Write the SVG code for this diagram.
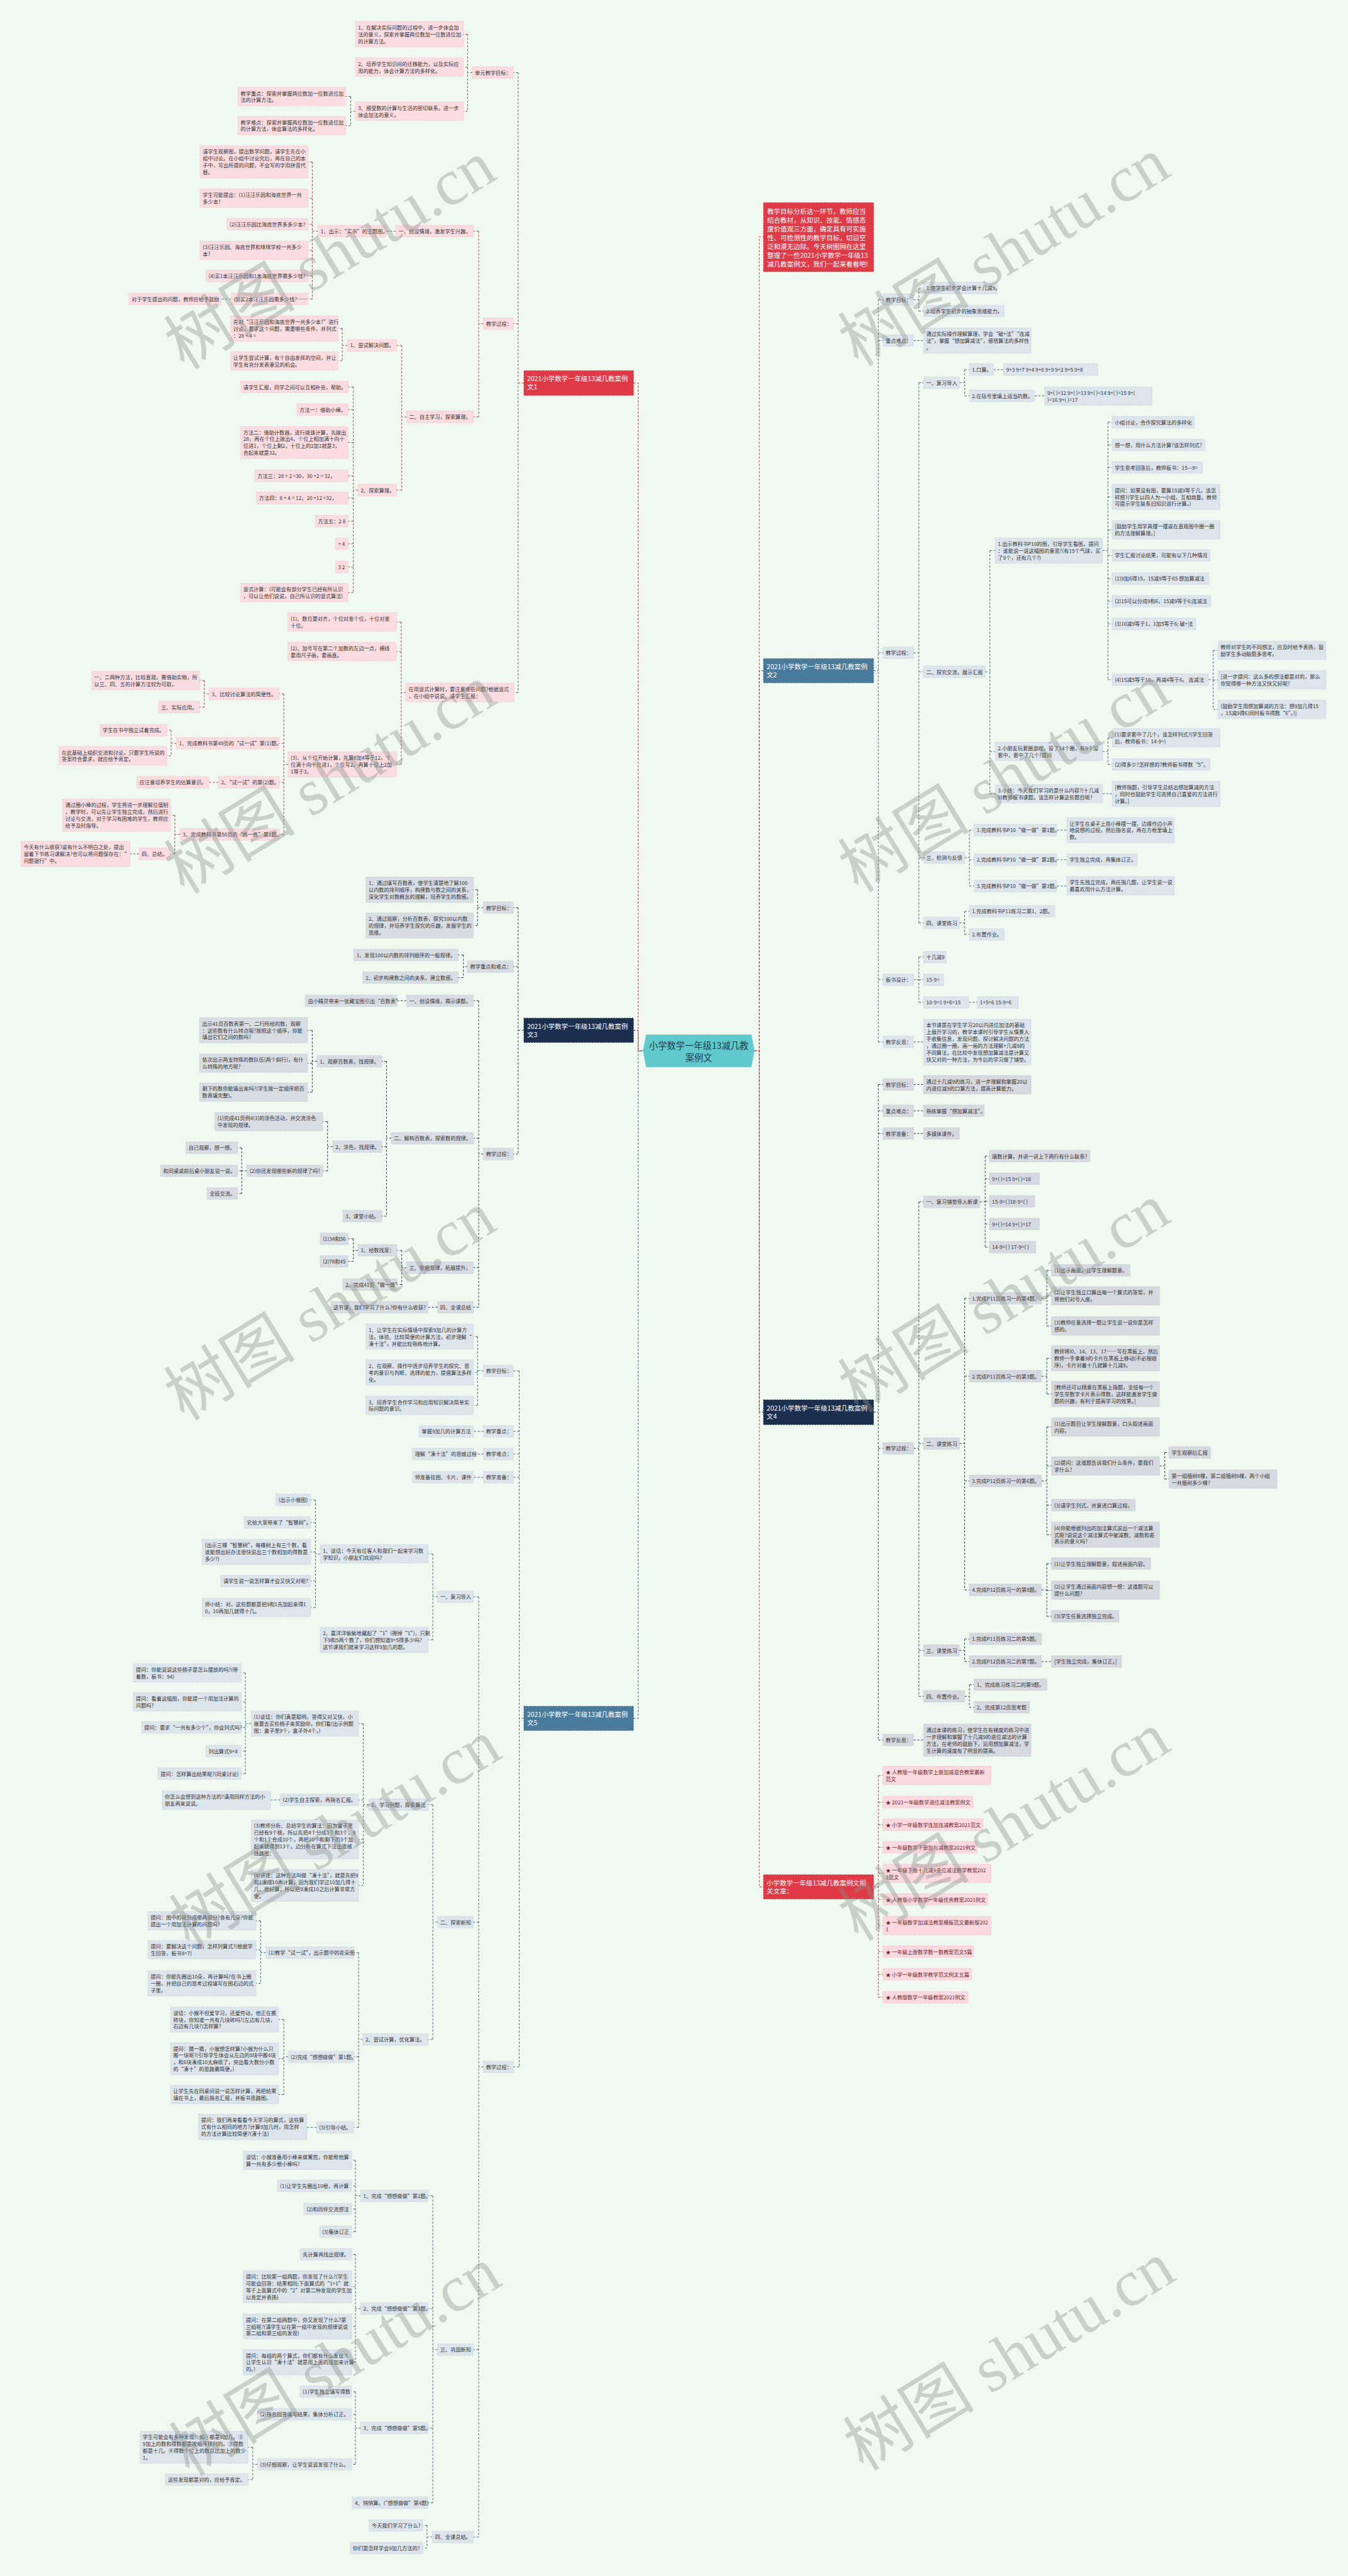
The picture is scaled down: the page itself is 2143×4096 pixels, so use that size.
<svg xmlns="http://www.w3.org/2000/svg" width="2143" height="4096" viewBox="0 0 2143 4096">
<style>
.t{font-family:"Noto Sans CJK SC","Liberation Sans",sans-serif;font-size:9.8px;fill:#333}
.tr{font-family:"Noto Sans CJK SC","Liberation Sans",sans-serif;font-size:9.8px;fill:#6e1d2a}
.tb{font-family:"Noto Sans CJK SC","Liberation Sans",sans-serif;font-size:12.5px;fill:#fff}
.tc{font-family:"Noto Sans CJK SC","Liberation Sans",sans-serif;font-size:17px;fill:#1e3d4c;text-anchor:middle}
.wm{font-family:"Liberation Serif","Noto Sans CJK SC",serif;font-size:125px;fill:#8a918a;opacity:.38}
.l1{fill:#fbdde1;stroke:#efbfc6;stroke-dasharray:3 2}
.l3{fill:#d8dce3;stroke:#c2c8d2;stroke-dasharray:3 2}
.l5{fill:#dce4ec;stroke:#c6d1dd;stroke-dasharray:3 2}
.l4{fill:#d6d9df;stroke:#c0c5ce;stroke-dasharray:3 2}
.lr{fill:#fbd9de;stroke:#efbcc4;stroke-dasharray:3 2}
.bred{fill:#e13a47;stroke:#b52633;stroke-dasharray:3 2}
.bnav{fill:#1d2f4e;stroke:#0e1a30;stroke-dasharray:3 2}
.bstl{fill:#4a7a9c;stroke:#2f5877;stroke-dasharray:3 2}
.c{fill:none;stroke-width:1.2;stroke-dasharray:4 3}
.c1{stroke:#a8404e}.c3{stroke:#2c3b55}.c5{stroke:#46647c}.cr{stroke:#c93341}
</style>
<rect width="2143" height="4096" fill="#f0f9ef"/>
<g transform="scale(0.83711)">

<g id="connectors">
<path class="c c5" d="M1203,3264H1212V1996H1221"/>
<path class="c c3" d="M1203,1957H1212V1996H1221"/>
<path class="c c1" d="M1203,727.5H1212V1996H1221"/>
<path class="c c5" d="M1433,1996H1442V1274H1450"/>
<path class="c c3" d="M1433,1996H1442V2682H1450"/>
<path class="c cr" d="M1433,1996H1442V450H1450M1442,1996V3584H1450"/>

<path class="c c1" d="M995,727.5H984M984,138V1315.5M984,138H975M984,615H975M984,1315.5H976"/>
<path class="c c1" d="M897,138H888M888,65V211.5M888,65H880M888,127.5H880M888,211.5H880"/>
<path class="c c1" d="M675,211.5H666M666,183.5V238.5M666,183.5H656M666,238.5H656"/>
<path class="c c1" d="M918,615H909M909,439V792M909,439H899M909,792H899"/>
<path class="c c1" d="M752,439H733"/>
<path class="c c1" d="M604,439H593M593,307.5V568M593,307.5H585M593,376.5H585M593,426H585M593,475.5H585M593,524H585M593,568H585"/>
<path class="c c1" d="M439,568H420"/>
<path class="c c1" d="M772,792H763M763,656V931M763,656H753M763,931H753"/>
<path class="c c1" d="M660,656H650M650,624V685.5M650,624H642M650,685.5H642"/>
<path class="c c1" d="M680,931H671M671,735V1125.5M671,735H661M671,778H661M671,840.5H661M671,904H661M671,946H661M671,990H661M671,1033H661M671,1077H661M671,1125.5H661"/>
<path class="c c1" d="M771,1315.5H762M762,1181.5V1452M762,1181.5H753M762,1237.5H753M762,1452H753"/>
<path class="c c1" d="M547,1452H539M539,1318V1585M539,1318H530M539,1412H530M539,1486H530M539,1585H530"/>
<path class="c c1" d="M397,1318H388M388,1292.5V1343M388,1292.5H379M388,1343H379"/>
<path class="c c1" d="M335,1412H325M325,1387V1435.5M325,1387H317M325,1435.5H317"/>
<path class="c c1" d="M415,1486H397"/>
<path class="c c1" d="M342,1585H332M332,1548.5V1622M332,1548.5H324M332,1622H323"/>
<path class="c c1" d="M264,1622H247"/>

<path class="c c3" d="M995,1957H984M984,1724V2192M984,1724H975M984,1836H975M984,2192H975"/>
<path class="c c3" d="M918,1724H907M907,1690V1758M907,1690H899M907,1758H899"/>
<path class="c c3" d="M888,1836H880M880,1814V1857M880,1814H870M880,1857H870"/>
<path class="c c3" d="M918,2192H909M909,1901V2483M909,1901H899M909,2162H899M909,2408H899M909,2483H899"/>
<path class="c c3" d="M772,1901H754"/>
<path class="c c3" d="M743,2162H734M734,2016V2310M734,2016H725M734,2178H725M734,2310H725"/>
<path class="c c3" d="M602,2016H593M593,1957V2074.5M593,1957H584M593,2019.5H584M593,2074.5H584"/>
<path class="c c3" d="M632,2178H622M622,2130.5V2224M622,2130.5H613M622,2224H613"/>
<path class="c c3" d="M469,2224H459M459,2180V2267M459,2180H451M459,2224H451M459,2267H451"/>
<path class="c c3" d="M772,2408H763M763,2375V2440M763,2375H754M763,2440H754"/>
<path class="c c3" d="M680,2375H671M671,2353V2396M671,2353H661M671,2396H661"/>
<path class="c c3" d="M831,2483H813"/>

<path class="c c5" d="M995,3264H986M986,2604V3926M986,2604H975M986,2719H975M986,2762H975M986,2806H975M986,3926H975"/>
<path class="c c5" d="M918,2604H907M907,2539V2669.5M907,2539H899M907,2607H899M907,2669.5H899"/>
<path class="c c5" d="M918,2719H899M918,2762H899M918,2806H899"/>
<path class="c c5" d="M918,3926H909M909,3033V4819M909,3033H899M909,3651H899M909,4463H899M909,4819H899"/>
<path class="c c5" d="M831,3033H822M822,2951.5V3115M822,2951.5H813M822,3115H813"/>
<path class="c c5" d="M608,2951.5H599M599,2849V3053.5M599,2849H590M599,2892H590M599,2948H590M599,3003H590M599,3053.5H590"/>
<path class="c c5" d="M831,3651H822M822,3428V3874M822,3428H813M822,3874H813"/>
<path class="c c5" d="M700,3428H690M690,3274V3581.5M690,3274H681M690,3419H681M690,3494H681M690,3581.5H681"/>
<path class="c c5" d="M477,3274H466M466,3177.5V3369M466,3177.5H458M466,3232.5H458M466,3281H458M466,3326H458M466,3369H458"/>
<path class="c c5" d="M532,3419H514"/>
<path class="c c5" d="M689,3874H681M681,3709V4041M681,3709H672M681,3907H672M681,4041H672"/>
<path class="c c5" d="M505,3709H495M495,3648.5V3767M495,3648.5H486M495,3703.5H486M495,3767H486"/>
<path class="c c5" d="M547,3907H539M539,3836V3978.5M539,3836H529M539,3910.5H529M539,3978.5H529"/>
<path class="c c5" d="M601,4041H583"/>
<path class="c c5" d="M831,4463H822M822,4171V4754M822,4171H813M822,4385H813M822,4612H813M822,4754H813"/>
<path class="c c5" d="M685,4171H675M675,4103.5V4239M675,4103.5H668M675,4152H668M675,4196H668M675,4239H668"/>
<path class="c c5" d="M685,4385H675M675,4282V4487M675,4282H668M675,4343.5H668M675,4419H668M675,4487H668"/>
<path class="c c5" d="M685,4612H675M675,4543V4681M675,4543H668M675,4586H668M675,4681H668"/>
<path class="c c5" d="M489,4681H480M480,4648.5V4710M480,4648.5H471M480,4710H471"/>
<path class="c c5" d="M821,4819H811M811,4797V4840M811,4797H803M811,4840H803"/>

<path class="c c5" d="M1659,1274H1668M1668,569V1979M1668,569H1677M1668,647H1677M1668,1240H1677M1668,1861H1677M1668,1979H1677"/>
<path class="c c5" d="M1735,569H1745M1745,547V591M1745,547H1754M1745,591H1754"/>
<path class="c c5" d="M1735,647H1754"/>
<path class="c c5" d="M1735,1240H1745M1745,727V1753M1745,727H1754M1745,1276H1754M1745,1629H1754M1745,1753H1754"/>
<path class="c c5" d="M1822,727H1832M1832,702V752M1832,702H1841M1832,752H1841"/>
<path class="c c5" d="M1887,702H1906M1965,752H1984"/>
<path class="c c5" d="M1871,1276H1880M1880,1046V1507.5M1880,1046H1890M1880,1427.5H1890M1880,1507.5H1890"/>
<path class="c c5" d="M2094,1046H2104M2104,802V1291M2104,802H2112M2104,845H2112M2104,888H2112M2104,944H2112M2104,1006.5H2112M2104,1055H2112M2104,1099H2112M2104,1142H2112M2104,1185H2112M2104,1291H2112"/>
<path class="c c5" d="M2295,1291H2304M2304,1235.5V1347.5M2304,1235.5H2313M2304,1291.5H2313M2304,1347.5H2313"/>
<path class="c c5" d="M2094,1427.5H2104M2104,1401.5V1452M2104,1401.5H2112M2104,1452H2112"/>
<path class="c c5" d="M2094,1507.5H2112"/>
<path class="c c5" d="M1832,1629H1841M1841,1577V1683M1841,1577H1850M1841,1633H1850M1841,1683H1850"/>
<path class="c c5" d="M2007,1577H2026M2007,1633H2026M2007,1683H2026"/>
<path class="c c5" d="M1822,1753H1832M1832,1731V1775M1832,1731H1841M1832,1775H1841"/>
<path class="c c5" d="M1735,1861H1745M1745,1818V1904M1745,1818H1754M1745,1861H1754M1745,1904H1754"/>
<path class="c c5" d="M1840,1904H1856M1735,1979H1754"/>

<path class="c c3" d="M1659,2682H1668M1668,2060V3305M1668,2060H1677M1668,2110H1677M1668,2153H1677M1668,2751H1677M1668,3305H1677"/>
<path class="c c3" d="M1735,2060H1754M1735,2110H1754M1735,2153H1754M1735,3305H1754"/>
<path class="c c3" d="M1735,2751H1745M1745,2283V3222M1745,2283H1754M1745,2742H1754M1745,3135H1754M1745,3222H1754"/>
<path class="c c3" d="M1861,2283H1871M1871,2196V2369M1871,2196H1879M1871,2239H1879M1871,2282H1879M1871,2325H1879M1871,2369H1879"/>
<path class="c c3" d="M1822,2742H1832M1832,2466V3020M1832,2466H1841M1832,2614H1841M1832,2813H1841M1832,3020H1841"/>
<path class="c c3" d="M1978,2466H1988M1988,2413V2518.5M1988,2413H1997M1988,2461.5H1997M1988,2518.5H1997"/>
<path class="c c3" d="M1978,2614H1988M1988,2580V2648M1988,2580H1997M1988,2648H1997"/>
<path class="c c3" d="M1978,2813H1988M1988,2710.5V2915M1988,2710.5H1997M1988,2784.5H1997M1988,2859H1997M1988,2915H1997"/>
<path class="c c3" d="M2202,2784.5H2212M2212,2759V2809.5M2212,2759H2220M2212,2809.5H2220"/>
<path class="c c3" d="M1978,3020H1988M1988,2970V3070M1988,2970H1997M1988,3020.5H1997M1988,3070H1997"/>
<path class="c c3" d="M1822,3135H1832M1832,3113V3156M1832,3113H1841M1832,3156H1841M1978,3156H1997"/>
<path class="c c3" d="M1832,3222H1841M1841,3200V3243M1841,3200H1850M1841,3243H1850"/>

<path class="c c1" d="M1659,3584H1668M1668,3372.5V3794M1668,3372.5H1677M1668,3423H1677M1668,3466H1677M1668,3509H1677M1668,3558.5H1677M1668,3608H1677M1668,3657.5H1677M1668,3707H1677M1668,3750H1677M1668,3794H1677"/>
</g>

<g id="center"><polygon points="1221,1996 1227,1965 1427,1965 1433,1996 1427,2027 1227,2027" fill="#60c9cd"/><text class="tc" x="1327" y="1992">小学数学一年级13减几教</text><text class="tc" x="1327" y="2015">案例文</text></g>

<g id="intro"><rect class="bred" x="1450" y="385" width="209" height="131"/><text class="tb" x="1457" y="406.5">教学目标分析这一环节，教师应当<tspan x="1457" dy="16.6">结合教材，从知识、技能、情感态</tspan><tspan x="1457" dy="16.6">度价值观三方面，确定具有可实施</tspan><tspan x="1457" dy="16.6">性、可检测性的教学目标，切忌空</tspan><tspan x="1457" dy="16.6">泛和漫无边际。今天树图网在这里</tspan><tspan x="1457" dy="16.6">整理了一些2021小学数学一年级13</tspan><tspan x="1457" dy="16.6">减几教案例文，我们一起来看看吧!</tspan></text></g>

<!-- Branch 1 -->
<g id="b1"><rect class="bred" x="995" y="704" width="208" height="47"/><text class="tb" x="1001" y="724">2021小学数学一年级13减几教案例<tspan x="1001" dy="16">文1</tspan></text></g>
<g id="b1a"><rect class="l1" x="897" y="127" width="78" height="22"/><text class="t" x="902" y="142">单元教学目标：</text></g>
<g id="b1a1"><rect class="l1" x="675" y="41" width="205" height="48"/><text class="t" x="680" y="56">1、在解决实际问题的过程中，进一步体会加<tspan x="680" dy="13">法的意义，探索并掌握两位数加一位数进位加</tspan><tspan x="680" dy="13">的计算方法。</tspan></text></g>
<g id="b1a2"><rect class="l1" x="675" y="110" width="205" height="35"/><text class="t" x="680" y="125">2、培养学生知识间的迁移能力，以及实际应<tspan x="680" dy="13">用的能力，体会计算方法的多样化。</tspan></text></g>
<g id="b1a3"><rect class="l1" x="675" y="194" width="205" height="35"/><text class="t" x="680" y="209">3、感受数的计算与生活的密切联系，进一步<tspan x="680" dy="13">体会加法的意义。</tspan></text></g>
<g id="b1a31"><rect class="l1" x="452" y="166" width="204" height="35"/><text class="t" x="457" y="181">教学重点：探索并掌握两位数加一位数进位加<tspan x="457" dy="13">法的计算方法。</tspan></text></g>
<g id="b1a32"><rect class="l1" x="452" y="221" width="204" height="35"/><text class="t" x="457" y="236">教学难点：探索并掌握两位数加一位数进位加<tspan x="457" dy="13">的计算方法，体会算法的多样化。</tspan></text></g>
<g id="b1b"><rect class="l1" x="918" y="604" width="57" height="22"/><text class="t" x="923" y="619">教学过程：</text></g>
<g id="b1b1"><rect class="l1" x="752" y="428" width="147" height="22"/><text class="t" x="757" y="443">一、创设情境，激发学生兴趣。</text></g>
<g id="b1b11"><rect class="l1" x="604" y="428" width="129" height="22"/><text class="t" x="609" y="443">1、出示：“买书”的主题图。</text></g>
<g id="b1c1"><rect class="l1" x="380" y="277" width="205" height="61"/><text class="t" x="385" y="292">请学生观察图，提出数学问题，请学生先在小<tspan x="385" dy="13">组中讨论。在小组中讨论完后，再在自己的本</tspan><tspan x="385" dy="13">子中，写出所提的问题，不会写的字用拼音代</tspan><tspan x="385" dy="13">替。</tspan></text></g>
<g id="b1c2"><rect class="l1" x="380" y="359" width="205" height="35"/><text class="t" x="385" y="374">学生可能提出：(1)汪汪乐园和海底世界一共<tspan x="385" dy="13">多少本?</tspan></text></g>
<g id="b1c3"><rect class="l1" x="431" y="415" width="154" height="22"/><text class="t" x="436" y="430">(2)汪汪乐园比海底世界多多少本?</text></g>
<g id="b1c4"><rect class="l1" x="380" y="458" width="205" height="35"/><text class="t" x="385" y="473">(3)汪汪乐园、海底世界和咪咪学校一共多少<tspan x="385" dy="13">本?</tspan></text></g>
<g id="b1c5"><rect class="l1" x="391" y="513" width="194" height="22"/><text class="t" x="396" y="528">(4)买1本汪汪乐园和1本海底世界需多少钱?</text></g>
<g id="b1c6"><rect class="l1" x="439" y="557" width="146" height="22"/><text class="t" x="444" y="572">(5)买2本汪汪乐园需多少钱?……</text></g>
<g id="b1c61"><rect class="l1" x="245" y="557" width="175" height="22"/><text class="t" x="250" y="572">对于学生提出的问题，教师应给予鼓励</text></g>
<g id="b1b2"><rect class="l1" x="772" y="781" width="127" height="22"/><text class="t" x="777" y="796">二、自主学习，探索算理。</text></g>
<g id="b1d1"><rect class="l1" x="660" y="645" width="93" height="22"/><text class="t" x="665" y="660">1、尝试解决问题。</text></g>
<g id="b1d11"><rect class="l1" x="438" y="600" width="204" height="48"/><text class="t" x="443" y="615">先对“汪汪乐园和海底世界一共多少本?”进行<tspan x="443" dy="13">讨论，要求这个问题，需要哪些条件，并列式</tspan><tspan x="443" dy="13">：28 + 4 =</tspan></text></g>
<g id="b1d12"><rect class="l1" x="438" y="668" width="204" height="35"/><text class="t" x="443" y="683">让学生尝试计算，有个自由发挥的空间，并让<tspan x="443" dy="13">学生有充分发表意见的机会。</tspan></text></g>
<g id="b1d2"><rect class="l1" x="680" y="920" width="73" height="22"/><text class="t" x="685" y="935">2、探索算理。</text></g>
<g id="b1e1"><rect class="l1" x="457" y="724" width="204" height="22"/><text class="t" x="462" y="739">请学生汇报，同学之间可以互相补充，帮助。</text></g>
<g id="b1e2"><rect class="l1" x="564" y="767" width="97" height="22"/><text class="t" x="569" y="782">方法一：借助小棒。</text></g>
<g id="b1e3"><rect class="l1" x="457" y="810" width="204" height="61"/><text class="t" x="462" y="825">方法二：借助计数器，进行拨珠计算，先拨出<tspan x="462" dy="13">28，再在个位上拨出4，个位上相加满十向十</tspan><tspan x="462" dy="13">位进1，个位上剩2，十位上的2加1就是3，</tspan><tspan x="462" dy="13">合起来就是32。</tspan></text></g>
<g id="b1e4"><rect class="l1" x="484" y="893" width="177" height="22"/><text class="t" x="489" y="908">方法三：28 + 2 =30，30 +2 = 32，</text></g>
<g id="b1e5"><rect class="l1" x="487" y="935" width="174" height="22"/><text class="t" x="492" y="950">方法四：8 + 4 = 12，20 +12 =32，</text></g>
<g id="b1e6"><rect class="l1" x="599" y="979" width="62" height="22"/><text class="t" x="604" y="994">方法五：2 8</text></g>
<g id="b1e7"><rect class="l1" x="637" y="1022" width="24" height="22"/><text class="t" x="642" y="1037">+ 4</text></g>
<g id="b1e8"><rect class="l1" x="637" y="1066" width="24" height="22"/><text class="t" x="642" y="1081">3 2</text></g>
<g id="b1e9"><rect class="l1" x="457" y="1108" width="204" height="35"/><text class="t" x="462" y="1123">竖式计算：(可能会有部分学生已经有所认识<tspan x="462" dy="13">，可以让他们说说，自己所认识的竖式算法)</tspan></text></g>
<g id="b1f"><rect class="l1" x="771" y="1298" width="205" height="35"/><text class="t" x="776" y="1313">在用竖式计算时，要注意哪些问题?根据竖式<tspan x="776" dy="13">，在小组中说说。请学生汇报：</tspan></text></g>
<g id="b1f1"><rect class="l1" x="547" y="1164" width="206" height="35"/><text class="t" x="552" y="1179">(1)、数位要对齐，个位对准个位，十位对准<tspan x="552" dy="13">十位。</tspan></text></g>
<g id="b1f2"><rect class="l1" x="547" y="1220" width="206" height="35"/><text class="t" x="552" y="1235">(2)、加号写在第二个加数的左边一点，横线<tspan x="552" dy="13">要用尺子画，要画直。</tspan></text></g>
<g id="b1f3"><rect class="l1" x="547" y="1428" width="206" height="48"/><text class="t" x="552" y="1443">(3)、从个位开始计算，先算8加4等于12，个<tspan x="552" dy="13">位满十向十位进1，个位写2。再算十位上2加</tspan><tspan x="552" dy="13">1等于3。</tspan></text></g>
<g id="b1g1"><rect class="l1" x="397" y="1307" width="133" height="22"/><text class="t" x="402" y="1322">3、比较讨论算法的简便性。</text></g>
<g id="b1g11"><rect class="l1" x="174" y="1275" width="205" height="35"/><text class="t" x="179" y="1290">一、二两种方法，比较直观，需借助实物，所<tspan x="179" dy="13">以三、四、五的计算方法较为可取。</tspan></text></g>
<g id="b1g12"><rect class="l1" x="301" y="1332" width="78" height="22"/><text class="t" x="306" y="1347">三、实际应用。</text></g>
<g id="b1g2"><rect class="l1" x="335" y="1401" width="195" height="22"/><text class="t" x="340" y="1416">1、完成教科书第49页的“试一试”第(1)题。</text></g>
<g id="b1g21"><rect class="l1" x="190" y="1376" width="127" height="22"/><text class="t" x="195" y="1391">学生在书中独立试着完成。</text></g>
<g id="b1g22"><rect class="l1" x="112" y="1418" width="205" height="35"/><text class="t" x="117" y="1433">在此基础上组织交流和讨论，只要学生所说的<tspan x="117" dy="13">答案符合要求，就应给予肯定。</tspan></text></g>
<g id="b1g3"><rect class="l1" x="415" y="1475" width="115" height="22"/><text class="t" x="420" y="1490">2、“试一试”的第(2)题。</text></g>
<g id="b1g31"><rect class="l1" x="260" y="1475" width="137" height="22"/><text class="t" x="265" y="1490">应注意培养学生的估算意识。</text></g>
<g id="b1g4"><rect class="l1" x="342" y="1574" width="188" height="22"/><text class="t" x="347" y="1589">3、完成教科书第50页的“练一练”第1题。</text></g>
<g id="b1g41"><rect class="l1" x="119" y="1518" width="205" height="61"/><text class="t" x="124" y="1533">通过圈小棒的过程，学生将进一步理解位值制<tspan x="124" dy="13">，教学时，可以先让学生独立完成，然后进行</tspan><tspan x="124" dy="13">讨论与交流，对于学习有困难的学生，教师应</tspan><tspan x="124" dy="13">给予及时指导。</tspan></text></g>
<g id="b1g42"><rect class="l1" x="264" y="1611" width="59" height="22"/><text class="t" x="269" y="1626">四、总结。</text></g>
<g id="b1g421"><rect class="l1" x="40" y="1598" width="207" height="48"/><text class="t" x="45" y="1613">今天有什么收获?或有什么不明白之处，提出<tspan x="45" dy="13">留着下节练习课解决?也可以将问题保存在：“</tspan><tspan x="45" dy="13">问题银行”中。</tspan></text></g>

<!-- Branch 3 -->
<g id="b3"><rect class="bnav" x="995" y="1934" width="208" height="46"/><text class="tb" x="1001" y="1954">2021小学数学一年级13减几教案例<tspan x="1001" dy="16">文3</tspan></text></g>
<g id="b3h1"><rect class="l3" x="918" y="1713" width="57" height="22"/><text class="t" x="923" y="1728">教学目标：</text></g>
<g id="b3h11"><rect class="l3" x="695" y="1666" width="204" height="48"/><text class="t" x="700" y="1681">1、通过填写百数表，使学生清楚地了解100<tspan x="700" dy="13">以内数的排列顺序，构建数与数之间的关系，</tspan><tspan x="700" dy="13">深化学生对数概念的理解，培养学生的数感。</tspan></text></g>
<g id="b3h12"><rect class="l3" x="695" y="1734" width="204" height="48"/><text class="t" x="700" y="1749">2、通过观察，分析百数表，探究100以内数<tspan x="700" dy="13">的规律，并培养学生探究的乐趣，发展学生的</tspan><tspan x="700" dy="13">思维。</tspan></text></g>
<g id="b3h2"><rect class="l3" x="888" y="1825" width="87" height="22"/><text class="t" x="893" y="1840">教学重点和难点：</text></g>
<g id="b3h21"><rect class="l3" x="672" y="1803" width="198" height="22"/><text class="t" x="677" y="1818">1、发现100以内数的排列顺序的一般规律。</text></g>
<g id="b3h22"><rect class="l3" x="689" y="1846" width="181" height="22"/><text class="t" x="694" y="1861">2、初步构建数之间的关系，建立数感。</text></g>
<g id="b3h3"><rect class="l3" x="918" y="2181" width="57" height="22"/><text class="t" x="923" y="2196">教学过程：</text></g>
<g id="b3i1"><rect class="l3" x="772" y="1890" width="127" height="22"/><text class="t" x="777" y="1905">一、创设情境，揭示课题。</text></g>
<g id="b3i11"><rect class="l3" x="580" y="1890" width="174" height="22"/><text class="t" x="585" y="1905">由小精灵带来一张藏宝图引出“百数表”</text></g>
<g id="b3i2"><rect class="l3" x="743" y="2151" width="156" height="22"/><text class="t" x="748" y="2166">二、解构百数表，探索数的规律。</text></g>
<g id="b3j1"><rect class="l3" x="602" y="2005" width="123" height="22"/><text class="t" x="607" y="2020">1、观察百数表，找规律。</text></g>
<g id="b3j11"><rect class="l3" x="379" y="1933" width="205" height="48"/><text class="t" x="384" y="1948">出示41页百数表第一、二行所给的数，观察<tspan x="384" dy="13">：这些数有什么特点呢?按照这个顺序，你能</tspan><tspan x="384" dy="13">填出它们之间的数吗?</tspan></text></g>
<g id="b3j12"><rect class="l3" x="379" y="2002" width="205" height="35"/><text class="t" x="384" y="2017">依次出示两支特殊的数队伍(两个斜行)，有什<tspan x="384" dy="13">么特殊的地方呢?</tspan></text></g>
<g id="b3j13"><rect class="l3" x="379" y="2057" width="205" height="35"/><text class="t" x="384" y="2072">剩下的数你能填出来吗?(学生按一定顺序把百<tspan x="384" dy="13">数表填完整)。</tspan></text></g>
<g id="b3j2"><rect class="l3" x="632" y="2167" width="93" height="22"/><text class="t" x="637" y="2182">2、涂色，找规律。</text></g>
<g id="b3j21"><rect class="l3" x="408" y="2113" width="205" height="35"/><text class="t" x="413" y="2128">(1)完成41页例4(1)的涂色活动，并交流涂色<tspan x="413" dy="13">中发现的规律。</tspan></text></g>
<g id="b3j22"><rect class="l3" x="469" y="2213" width="144" height="22"/><text class="t" x="474" y="2228">(2)你还发现哪些新的规律了吗?</text></g>
<g id="b3k1"><rect class="l3" x="353" y="2169" width="98" height="22"/><text class="t" x="358" y="2184">自己观察，想一想。</text></g>
<g id="b3k2"><rect class="l3" x="305" y="2213" width="146" height="22"/><text class="t" x="310" y="2228">和同桌或前后桌小朋友说一说。</text></g>
<g id="b3k3"><rect class="l3" x="393" y="2256" width="58" height="22"/><text class="t" x="398" y="2271">全班交流。</text></g>
<g id="b3j3"><rect class="l3" x="651" y="2299" width="74" height="22"/><text class="t" x="656" y="2314">3、课堂小结。</text></g>
<g id="b3i3"><rect class="l3" x="772" y="2397" width="127" height="22"/><text class="t" x="777" y="2412">三、依据规律，拓展提升。</text></g>
<g id="b3m1"><rect class="l3" x="680" y="2364" width="74" height="22"/><text class="t" x="685" y="2379">1、给数找家：</text></g>
<g id="b3m11"><rect class="l3" x="608" y="2342" width="53" height="22"/><text class="t" x="613" y="2357">(1)34和56</text></g>
<g id="b3m12"><rect class="l3" x="608" y="2385" width="53" height="22"/><text class="t" x="613" y="2400">(2)78和45</text></g>
<g id="b3m2"><rect class="l3" x="651" y="2429" width="103" height="22"/><text class="t" x="656" y="2444">2、完成41页“做一做”</text></g>
<g id="b3i4"><rect class="l3" x="831" y="2472" width="68" height="22"/><text class="t" x="836" y="2487">四、全课总结</text></g>
<g id="b3i41"><rect class="l3" x="628" y="2472" width="185" height="22"/><text class="t" x="633" y="2487">这节课，我们学习了什么?你有什么收获?</text></g>

<!-- Branch 5 -->
<g id="b5"><rect class="bstl" x="995" y="3241" width="208" height="46"/><text class="tb" x="1001" y="3261">2021小学数学一年级13减几教案例<tspan x="1001" dy="16">文5</tspan></text></g>
<g id="b5n1"><rect class="l5" x="918" y="2593" width="57" height="22"/><text class="t" x="923" y="2608">教学目标：</text></g>
<g id="b5n11"><rect class="l5" x="695" y="2515" width="204" height="48"/><text class="t" x="700" y="2530">1、让学生在实际情境中探索9加几的计算方<tspan x="700" dy="13">法，体验、比较简便的计算方法，初步理解“</tspan><tspan x="700" dy="13">凑十法”，并能比较熟练地计算。</tspan></text></g>
<g id="b5n12"><rect class="l5" x="695" y="2583" width="204" height="48"/><text class="t" x="700" y="2598">2、在观察、操作中逐步培养学生的探究、思<tspan x="700" dy="13">考的意识与判断、选择的能力，提倡算法多样</tspan><tspan x="700" dy="13">化。</tspan></text></g>
<g id="b5n13"><rect class="l5" x="695" y="2652" width="204" height="35"/><text class="t" x="700" y="2667">3、培养学生合作学习和应用知识解决简单实<tspan x="700" dy="13">际问题的意识。</tspan></text></g>
<g id="b5n2"><rect class="l5" x="918" y="2708" width="57" height="22"/><text class="t" x="923" y="2723">教学重点：</text></g>
<g id="b5n21"><rect class="l5" x="796" y="2708" width="103" height="22"/><text class="t" x="801" y="2723">掌握9加几的计算方法</text></g>
<g id="b5n3"><rect class="l5" x="918" y="2751" width="57" height="22"/><text class="t" x="923" y="2766">教学难点：</text></g>
<g id="b5n31"><rect class="l5" x="783" y="2751" width="116" height="22"/><text class="t" x="788" y="2766">理解“凑十法”的思维过程</text></g>
<g id="b5n4"><rect class="l5" x="918" y="2795" width="57" height="22"/><text class="t" x="923" y="2810">教学准备：</text></g>
<g id="b5n41"><rect class="l5" x="783" y="2795" width="116" height="22"/><text class="t" x="788" y="2810">师准备挂图、卡片、课件</text></g>
<g id="b5n5"><rect class="l5" x="918" y="3915" width="57" height="22"/><text class="t" x="923" y="3930">教学过程：</text></g>
<g id="b5p1"><rect class="l5" x="831" y="3022" width="68" height="22"/><text class="t" x="836" y="3037">一、复习导入</text></g>
<g id="b5q1"><rect class="l5" x="608" y="2934" width="205" height="35"/><text class="t" x="613" y="2949">1、谈话：今天有位客人和我们一起来学习数<tspan x="613" dy="13">学知识，小朋友们欢迎吗?</tspan></text></g>
<g id="b5q11"><rect class="l5" x="524" y="2838" width="66" height="22"/><text class="t" x="529" y="2853">(出示小猴图)</text></g>
<g id="b5q12"><rect class="l5" x="464" y="2881" width="126" height="22"/><text class="t" x="469" y="2896">它给大家带来了“智慧树”。</text></g>
<g id="b5q13"><rect class="l5" x="384" y="2924" width="206" height="48"/><text class="t" x="389" y="2939">(出示三棵“智慧树”，每棵树上有三个数，看<tspan x="389" dy="13">谁能想出好办法很快说出三个数相加的得数是</tspan><tspan x="389" dy="13">多少?)</tspan></text></g>
<g id="b5q14"><rect class="l5" x="419" y="2992" width="171" height="22"/><text class="t" x="424" y="3007">请学生说一说怎样算才会又快又对呢?</text></g>
<g id="b5q15"><rect class="l5" x="384" y="3036" width="206" height="35"/><text class="t" x="389" y="3051">师小结：对，这些题都是把9和1先加起来得1<tspan x="389" dy="13">0，10再加几就得十几。</tspan></text></g>
<g id="b5q2"><rect class="l5" x="608" y="3091" width="205" height="48"/><text class="t" x="613" y="3106">2、喜洋洋偷偷地藏起了“1”(擦掉“1”)，只剩<tspan x="613" dy="13">下9和5两个数了，你们想知道9+5得多少吗?</tspan><tspan x="613" dy="13">这节课我们就来学习这样9加几的题。</tspan></text></g>
<g id="b5p2"><rect class="l5" x="831" y="3640" width="68" height="22"/><text class="t" x="836" y="3655">二、探索新知</text></g>
<g id="b5r1"><rect class="l5" x="700" y="3417" width="113" height="22"/><text class="t" x="705" y="3432">1、学习例题，探索算法</text></g>
<g id="b5r11"><rect class="l5" x="477" y="3250" width="204" height="48"/><text class="t" x="482" y="3265">(1)谈话：你们真是聪明，答得又对又快，小<tspan x="482" dy="13">猴要去买些桃子来奖励你，你们看(出示例题</tspan><tspan x="482" dy="13">图：盒子里9个，盒子外4个。)</tspan></text></g>
<g id="b5s1"><rect class="l5" x="253" y="3160" width="205" height="35"/><text class="t" x="258" y="3175">提问：你能说说这些桃子是怎么摆放的吗?(带<tspan x="258" dy="13">着数，板书：94)</tspan></text></g>
<g id="b5s2"><rect class="l5" x="253" y="3215" width="205" height="35"/><text class="t" x="258" y="3230">提问：看着这幅图，你能提一个用加法计算的<tspan x="258" dy="13">问题吗?</tspan></text></g>
<g id="b5s3"><rect class="l5" x="269" y="3270" width="189" height="22"/><text class="t" x="274" y="3285">提问：要求“一共有多少个”，你会列式吗?</text></g>
<g id="b5s4"><rect class="l5" x="391" y="3315" width="67" height="22"/><text class="t" x="396" y="3330">列出算式9+4</text></g>
<g id="b5s5"><rect class="l5" x="300" y="3358" width="158" height="22"/><text class="t" x="305" y="3373">提问：怎样算出结果呢?(同桌讨论)</text></g>
<g id="b5r12"><rect class="l5" x="532" y="3408" width="149" height="22"/><text class="t" x="537" y="3423">(2)学生自主探索，再指名汇报。</text></g>
<g id="b5r121"><rect class="l5" x="308" y="3402" width="206" height="35"/><text class="t" x="313" y="3417">你怎么会想到这种方法的?请用同样方法的小<tspan x="313" dy="13">朋友再来说说。</tspan></text></g>
<g id="b5r13"><rect class="l5" x="477" y="3457" width="204" height="74"/><text class="t" x="482" y="3472">(3)教师分析、总结学生的算法：因为盒子里<tspan x="482" dy="13">已经有9个桃，所以先把4个分成1个和3个，9</tspan><tspan x="482" dy="13">个和1个合成10个，再把10个和剩下的3个加</tspan><tspan x="482" dy="13">起来就得到13个。边分析在算式下注出思维</tspan><tspan x="482" dy="13">线路图：</tspan></text></g>
<g id="b5r14"><rect class="l5" x="477" y="3551" width="204" height="61"/><text class="t" x="482" y="3566">(4)讲述：这种方法叫做“凑十法”，就是先把9<tspan x="482" dy="13">和1凑成10再计算，因为我们学过10加几得十</tspan><tspan x="482" dy="13">几，很好算，所以把9凑成10之后计算非常方</tspan><tspan x="482" dy="13">便。</tspan></text></g>
<g id="b5r2"><rect class="l5" x="689" y="3863" width="124" height="22"/><text class="t" x="694" y="3878">2、尝试计算，优化算法。</text></g>
<g id="b5t1"><rect class="l5" x="505" y="3698" width="167" height="22"/><text class="t" x="510" y="3713">(1)教学“试一试”，出示题中的花朵图</text></g>
<g id="b5t11"><rect class="l5" x="281" y="3631" width="205" height="35"/><text class="t" x="286" y="3646">提问：图中的花分成哪两部分?各有几朵?你能<tspan x="286" dy="13">提出一个用加法计算的问题吗?</tspan></text></g>
<g id="b5t12"><rect class="l5" x="281" y="3686" width="205" height="35"/><text class="t" x="286" y="3701">提问：要解决这个问题，怎样列算式?(根据学<tspan x="286" dy="13">生回答，板书9+7)</tspan></text></g>
<g id="b5t13"><rect class="l5" x="281" y="3743" width="205" height="48"/><text class="t" x="286" y="3758">提问：你能先圈出10朵，再计算吗?在书上圈<tspan x="286" dy="13">一圈，并把自己的思考过程填写在图右边的式</tspan><tspan x="286" dy="13">子里。</tspan></text></g>
<g id="b5t2"><rect class="l5" x="547" y="3896" width="125" height="22"/><text class="t" x="552" y="3911">(2)完成“想想做做”第1题。</text></g>
<g id="b5t21"><rect class="l5" x="324" y="3812" width="205" height="48"/><text class="t" x="329" y="3827">谈话：小猴不但爱学习，还爱劳动，他正在搬<tspan x="329" dy="13">砖块，你知道一共有几块砖吗?(左边有几块，</tspan><tspan x="329" dy="13">右边有几块?)怎样算?</tspan></text></g>
<g id="b5t22"><rect class="l5" x="324" y="3880" width="205" height="61"/><text class="t" x="329" y="3895">提问：猜一猜，小猴想怎样算?小猴为什么只<tspan x="329" dy="13">搬一块呢?(引导学生体会从左边的9块中搬4块</tspan><tspan x="329" dy="13">，和6块凑成10太麻烦了，突出看大数分小数</tspan><tspan x="329" dy="13">的“凑十”的思路最简便。)</tspan></text></g>
<g id="b5t23"><rect class="l5" x="324" y="3961" width="205" height="35"/><text class="t" x="329" y="3976">让学生先在同桌间说一说怎样计算，再把结果<tspan x="329" dy="13">填在书上，最后指名汇报，并板书思路图。</tspan></text></g>
<g id="b5t3"><rect class="l5" x="601" y="4030" width="71" height="22"/><text class="t" x="606" y="4045">(3)引导小结。</text></g>
<g id="b5t31"><rect class="l5" x="377" y="4016" width="206" height="48"/><text class="t" x="382" y="4031">提问：我们再来看看今天学习的算式，这些算<tspan x="382" dy="13">式有什么相同的地方?计算9加几时，用怎样</tspan><tspan x="382" dy="13">的方法计算比较简便?(凑十法)</tspan></text></g>
<g id="b5p3"><rect class="l5" x="831" y="4452" width="68" height="22"/><text class="t" x="836" y="4467">三、巩固新知</text></g>
<g id="b5u1"><rect class="l5" x="685" y="4160" width="128" height="22"/><text class="t" x="690" y="4175">1、完成“想想做做”第2题。</text></g>
<g id="b5u11"><rect class="l5" x="462" y="4086" width="206" height="35"/><text class="t" x="467" y="4101">谈话：小猴准备用小棒来做篱笆，你能帮他算<tspan x="467" dy="13">算一共有多少根小棒吗?</tspan></text></g>
<g id="b5u12"><rect class="l5" x="527" y="4141" width="141" height="22"/><text class="t" x="532" y="4156">(1)让学生先圈出10根，再计算</text></g>
<g id="b5u13"><rect class="l5" x="577" y="4185" width="91" height="22"/><text class="t" x="582" y="4200">(2)和同伴交流想法</text></g>
<g id="b5u14"><rect class="l5" x="607" y="4228" width="61" height="22"/><text class="t" x="612" y="4243">(3)集体订正</text></g>
<g id="b5u2"><rect class="l5" x="685" y="4374" width="128" height="22"/><text class="t" x="690" y="4389">2、完成“想想做做”第3题。</text></g>
<g id="b5u21"><rect class="l5" x="570" y="4271" width="98" height="22"/><text class="t" x="575" y="4286">先计算再找出规律。</text></g>
<g id="b5u22"><rect class="l5" x="462" y="4313" width="206" height="61"/><text class="t" x="467" y="4328">提问：比较第一组两题，你发现了什么?(学生<tspan x="467" dy="13">可能会回答：结果相同;下面算式的“1+1”就</tspan><tspan x="467" dy="13">等于上面算式中的“2”对第二种发现的学生加</tspan><tspan x="467" dy="13">以肯定并表扬)</tspan></text></g>
<g id="b5u23"><rect class="l5" x="462" y="4395" width="206" height="48"/><text class="t" x="467" y="4410">提问：在第二组两题中，你又发现了什么?第<tspan x="467" dy="13">三组呢?(请学生以在第一组中发现的规律说说</tspan><tspan x="467" dy="13">第二组和第三组的发现)</tspan></text></g>
<g id="b5u24"><rect class="l5" x="462" y="4463" width="206" height="48"/><text class="t" x="467" y="4478">提问：每组的两个算式，你们都有什么发现?(<tspan x="467" dy="13">让学生认识“凑十法”就是用上面的连加来计算</tspan><tspan x="467" dy="13">的。)</tspan></text></g>
<g id="b5u3"><rect class="l5" x="685" y="4601" width="128" height="22"/><text class="t" x="690" y="4616">3、完成“想想做做”第5题。</text></g>
<g id="b5u31"><rect class="l5" x="570" y="4532" width="98" height="22"/><text class="t" x="575" y="4547">(1)学生独立填写得数</text></g>
<g id="b5u32"><rect class="l5" x="489" y="4575" width="179" height="22"/><text class="t" x="494" y="4590">(2)指名回答填写结果，集体分析订正。</text></g>
<g id="b5u33"><rect class="l5" x="489" y="4670" width="179" height="22"/><text class="t" x="494" y="4685">(3)仔细观察，让学生说说发现了什么。</text></g>
<g id="b5u331"><rect class="l5" x="266" y="4618" width="205" height="61"/><text class="t" x="271" y="4633">学生可能会有多种发现：如①都是9加几。②<tspan x="271" dy="13">9加上的数和得数都是按顺序排列的。③得数</tspan><tspan x="271" dy="13">都是十几。④得数个位上的数总比加上的数少</tspan><tspan x="271" dy="13">1。</tspan></text></g>
<g id="b5u332"><rect class="l5" x="314" y="4699" width="157" height="22"/><text class="t" x="319" y="4714">这些发现都是对的，应给予肯定。</text></g>
<g id="b5u4"><rect class="l5" x="669" y="4743" width="144" height="22"/><text class="t" x="674" y="4758">4、悄悄算。(“想想做做”第4题)</text></g>
<g id="b5p4"><rect class="l5" x="821" y="4808" width="78" height="22"/><text class="t" x="826" y="4823">四、全课总结。</text></g>
<g id="b5v1"><rect class="l5" x="701" y="4786" width="102" height="22"/><text class="t" x="706" y="4801">今天我们学习了什么?</text></g>
<g id="b5v2"><rect class="l5" x="665" y="4829" width="138" height="22"/><text class="t" x="670" y="4844">你们是怎样学会9加几方法的?</text></g>

<!-- Branch 2 -->
<g id="b2"><rect class="bstl" x="1450" y="1251" width="209" height="46"/><text class="tb" x="1456" y="1271">2021小学数学一年级13减几教案例<tspan x="1456" dy="16">文2</tspan></text></g>
<g id="b2w1"><rect class="l5" x="1677" y="558" width="58" height="22"/><text class="t" x="1682" y="573">教学目标：</text></g>
<g id="b2w11"><rect class="l5" x="1754" y="536" width="140" height="22"/><text class="t" x="1759" y="551">1.使学生初步学会计算十几减9。</text></g>
<g id="b2w12"><rect class="l5" x="1754" y="580" width="153" height="22"/><text class="t" x="1759" y="595">2.培养学生初步的抽象思维能力。</text></g>
<g id="b2w2"><rect class="l5" x="1677" y="636" width="58" height="22"/><text class="t" x="1682" y="651">重点难点：</text></g>
<g id="b2w21"><rect class="l5" x="1754" y="623" width="204" height="48"/><text class="t" x="1759" y="638">通过实际操作理解算理，学会“破+法”“连减<tspan x="1759" dy="13">法”，掌握“想加算减法”，感悟算法的多样性</tspan><tspan x="1759" dy="13">。</tspan></text></g>
<g id="b2w3"><rect class="l5" x="1677" y="1229" width="58" height="22"/><text class="t" x="1682" y="1244">教学过程：</text></g>
<g id="b2x1"><rect class="l5" x="1754" y="716" width="68" height="22"/><text class="t" x="1759" y="731">一、复习导入</text></g>
<g id="b2x11"><rect class="l5" x="1841" y="691" width="46" height="22"/><text class="t" x="1846" y="706">1.口算。</text></g>
<g id="b2x111"><rect class="l5" x="1906" y="691" width="179" height="22"/><text class="t" x="1911" y="706">9+3 9+7 9+4 9+6 9+9 9+2 9+5 9+8</text></g>
<g id="b2x12"><rect class="l5" x="1841" y="741" width="124" height="22"/><text class="t" x="1846" y="756">2.在括号里填上适当的数。</text></g>
<g id="b2x121"><rect class="l5" x="1984" y="735" width="204" height="35"/><text class="t" x="1989" y="750">9+( )=12 9+( )=13 9+( )=14 9+( )=15 9+(<tspan x="1989" dy="13">)=16 9+( )=17</tspan></text></g>
<g id="b2x2"><rect class="l5" x="1754" y="1265" width="117" height="22"/><text class="t" x="1759" y="1280">二、探究交流，展示汇报</text></g>
<g id="b2y1"><rect class="l5" x="1890" y="1022" width="204" height="48"/><text class="t" x="1895" y="1037">1.出示教科书P10的图，引导学生看图，提问<tspan x="1895" dy="13">：谁能说一说这幅图的意思?(有15个气球，买</tspan><tspan x="1895" dy="13">了9个，还有几个?)</tspan></text></g>
<g id="b2y11"><rect class="l5" x="2112" y="791" width="156" height="22"/><text class="t" x="2117" y="806">小组讨论，合作探究算法的多样化</text></g>
<g id="b2y12"><rect class="l5" x="2112" y="834" width="176" height="22"/><text class="t" x="2117" y="849">想一想，用什么方法计算?该怎样列式?</text></g>
<g id="b2y13"><rect class="l5" x="2112" y="877" width="172" height="22"/><text class="t" x="2117" y="892">学生思考回答后，教师板书：15—9=</text></g>
<g id="b2y14"><rect class="l5" x="2112" y="920" width="205" height="48"/><text class="t" x="2117" y="935">提问：如果没有图，要算15减9等于几，该怎<tspan x="2117" dy="13">样想?(学生以四人为一小组，互相商量。教师</tspan><tspan x="2117" dy="13">可提示学生联系旧知识进行计算。)</tspan></text></g>
<g id="b2y15"><rect class="l5" x="2112" y="989" width="205" height="35"/><text class="t" x="2117" y="1004">[鼓励学生用学具摆一摆或在直观图中圈一圈<tspan x="2117" dy="13">的方法理解算理。]</tspan></text></g>
<g id="b2y16"><rect class="l5" x="2112" y="1044" width="186" height="22"/><text class="t" x="2117" y="1059">学生汇报讨论结果，可能有以下几种情况</text></g>
<g id="b2y17"><rect class="l5" x="2112" y="1088" width="184" height="22"/><text class="t" x="2117" y="1103">(1)9加6得15，15减9等于65 想加算减法</text></g>
<g id="b2y18"><rect class="l5" x="2112" y="1131" width="187" height="22"/><text class="t" x="2117" y="1146">(2)15可以分成9和6，15减9等于6;连减法</text></g>
<g id="b2y19"><rect class="l5" x="2112" y="1174" width="159" height="22"/><text class="t" x="2117" y="1189">(3)10减9等于1，1加5等于6; 破+法</text></g>
<g id="b2y1a"><rect class="l5" x="2112" y="1280" width="183" height="22"/><text class="t" x="2117" y="1295">(4)15减5等于10，再减4等于6。 连减法</text></g>
<g id="b2z1"><rect class="l5" x="2313" y="1218" width="205" height="35"/><text class="t" x="2318" y="1233">教师对学生的不同想法，应及时给予表扬，鼓<tspan x="2318" dy="13">励学生多动脑筋多思考。</tspan></text></g>
<g id="b2z2"><rect class="l5" x="2313" y="1274" width="205" height="35"/><text class="t" x="2318" y="1289">[进一步提问：这么多的想法都是对的，那么<tspan x="2318" dy="13">你觉得哪一种方法又快又好呢?</tspan></text></g>
<g id="b2z3"><rect class="l5" x="2313" y="1330" width="205" height="35"/><text class="t" x="2318" y="1345">(鼓励学生用想加算减的方法：想9加几得15<tspan x="2318" dy="13">，15减9得6)同时板书得数“6”。)]</tspan></text></g>
<g id="b2y2"><rect class="l5" x="1890" y="1410" width="204" height="35"/><text class="t" x="1895" y="1425">2.小朋友玩套圈游戏，投了14个圈，有9个没<tspan x="1895" dy="13">套中，套中了几个?提问</tspan></text></g>
<g id="b2y21"><rect class="l5" x="2112" y="1384" width="205" height="35"/><text class="t" x="2117" y="1399">(1)要求套中了几个，该怎样列式?(学生回答<tspan x="2117" dy="13">后，教师板书：14-9=)</tspan></text></g>
<g id="b2y22"><rect class="l5" x="2112" y="1441" width="186" height="22"/><text class="t" x="2117" y="1456">(2)得多少?怎样想的?教师板书得数“5”。</text></g>
<g id="b2y3"><rect class="l5" x="1890" y="1490" width="204" height="35"/><text class="t" x="1895" y="1505">3.小结：今天我们学习的是什么内容?(十几减<tspan x="1895" dy="13">9)教师板书课题。该怎样计算这些题目呢?</tspan></text></g>
<g id="b2y31"><rect class="l5" x="2112" y="1484" width="205" height="48"/><text class="t" x="2117" y="1499">[教师指题，引导学生总结出想加算减的方法<tspan x="2117" dy="13">，同时也鼓励学生可选择自己喜爱的方法进行</tspan><tspan x="2117" dy="13">计算。]</tspan></text></g>
<g id="b2x3"><rect class="l5" x="1754" y="1618" width="78" height="22"/><text class="t" x="1759" y="1633">三、检测与反馈</text></g>
<g id="b2x31"><rect class="l5" x="1850" y="1566" width="157" height="22"/><text class="t" x="1855" y="1581">1.完成教科书P10“做一做”第1题。</text></g>
<g id="b2x311"><rect class="l5" x="2026" y="1553" width="204" height="48"/><text class="t" x="2031" y="1568">让学生在桌子上用小棒摆一摆，边操作边小声<tspan x="2031" dy="13">地说想的过程，然后指名说，再在方框里填上</tspan><tspan x="2031" dy="13">数。</tspan></text></g>
<g id="b2x32"><rect class="l5" x="1850" y="1622" width="157" height="22"/><text class="t" x="1855" y="1637">2.完成教科书P10“做一做”第2题。</text></g>
<g id="b2x321"><rect class="l5" x="2026" y="1622" width="134" height="22"/><text class="t" x="2031" y="1637">学生独立完成，再集体订正。</text></g>
<g id="b2x33"><rect class="l5" x="1850" y="1672" width="157" height="22"/><text class="t" x="1855" y="1687">3.完成教科书P10“做一做”第3题。</text></g>
<g id="b2x331"><rect class="l5" x="2026" y="1665" width="204" height="35"/><text class="t" x="2031" y="1680">学生先独立完成，再任指几题，让学生说一说<tspan x="2031" dy="13">最喜欢用什么方法计算。</tspan></text></g>
<g id="b2x4"><rect class="l5" x="1754" y="1742" width="68" height="22"/><text class="t" x="1759" y="1757">四、课堂练习</text></g>
<g id="b2x41"><rect class="l5" x="1841" y="1720" width="162" height="22"/><text class="t" x="1846" y="1735">1.完成教科书P11练习二第1、2题。</text></g>
<g id="b2x42"><rect class="l5" x="1841" y="1764" width="66" height="22"/><text class="t" x="1846" y="1779">2.布置作业。</text></g>
<g id="b2w4"><rect class="l5" x="1677" y="1850" width="58" height="22"/><text class="t" x="1682" y="1865">板书设计：</text></g>
<g id="b2w41"><rect class="l5" x="1754" y="1807" width="43" height="22"/><text class="t" x="1759" y="1822">十几减9</text></g>
<g id="b2w42"><rect class="l5" x="1754" y="1850" width="38" height="22"/><text class="t" x="1759" y="1865">15-9=</text></g>
<g id="b2w43"><rect class="l5" x="1754" y="1893" width="86" height="22"/><text class="t" x="1759" y="1908">10-9=1 9+6=15</text></g>
<g id="b2w431"><rect class="l5" x="1856" y="1893" width="78" height="22"/><text class="t" x="1861" y="1908">1+5=6 15-9=6</text></g>
<g id="b2w5"><rect class="l5" x="1677" y="1968" width="58" height="22"/><text class="t" x="1682" y="1983">教学反思：</text></g>
<g id="b2w51"><rect class="l5" x="1754" y="1936" width="204" height="87"/><text class="t" x="1759" y="1951">本节课是在学生学习20以内进位加法的基础<tspan x="1759" dy="13">上展开学习的，教学本课时引导学生从情景入</tspan><tspan x="1759" dy="13">手收集信息，发现问题，探讨解决问题的方法</tspan><tspan x="1759" dy="13">，通过圈一圈，画一画的方法理解+几减9的</tspan><tspan x="1759" dy="13">不同算法，在比较中发现想加算减法是计算又</tspan><tspan x="1759" dy="13">快又对的一种方法，为今后的学习做了铺垫。</tspan></text></g>

<!-- Branch 4 -->
<g id="b4"><rect class="bnav" x="1450" y="2659" width="209" height="47"/><text class="tb" x="1456" y="2679">2021小学数学一年级13减几教案例<tspan x="1456" dy="16">文4</tspan></text></g>
<g id="b4a1"><rect class="l4" x="1677" y="2049" width="58" height="22"/><text class="t" x="1682" y="2064">教学目标：</text></g>
<g id="b4a11"><rect class="l4" x="1754" y="2043" width="204" height="35"/><text class="t" x="1759" y="2058">通过十几减9的练习，进一步理解和掌握20以<tspan x="1759" dy="13">内退位减9的口算方法，提高计算能力。</tspan></text></g>
<g id="b4a2"><rect class="l4" x="1677" y="2099" width="58" height="22"/><text class="t" x="1682" y="2114">重点难点：</text></g>
<g id="b4a21"><rect class="l4" x="1754" y="2099" width="115" height="22"/><text class="t" x="1759" y="2114">熟练掌握“想加算减法”。</text></g>
<g id="b4a3"><rect class="l4" x="1677" y="2142" width="58" height="22"/><text class="t" x="1682" y="2157">教学准备：</text></g>
<g id="b4a31"><rect class="l4" x="1754" y="2142" width="68" height="22"/><text class="t" x="1759" y="2157">多媒体课件。</text></g>
<g id="b4a4"><rect class="l4" x="1677" y="2740" width="58" height="22"/><text class="t" x="1682" y="2755">教学过程：</text></g>
<g id="b4b1"><rect class="l4" x="1754" y="2272" width="107" height="22"/><text class="t" x="1759" y="2287">一、复习铺垫导入新课</text></g>
<g id="b4b11"><rect class="l4" x="1879" y="2185" width="191" height="22"/><text class="t" x="1884" y="2200">填数计算，并讲一讲上下两行有什么联系?</text></g>
<g id="b4b12"><rect class="l4" x="1879" y="2228" width="95" height="22"/><text class="t" x="1884" y="2243">9+( )=15 9+( )=18</text></g>
<g id="b4b13"><rect class="l4" x="1879" y="2271" width="86" height="22"/><text class="t" x="1884" y="2286">15-9=( )18-9=( )</text></g>
<g id="b4b14"><rect class="l4" x="1879" y="2314" width="95" height="22"/><text class="t" x="1884" y="2329">9+( )=14 9+( )=17</text></g>
<g id="b4b15"><rect class="l4" x="1879" y="2358" width="88" height="22"/><text class="t" x="1884" y="2373">14-9=( ) 17-9=( )</text></g>
<g id="b4b2"><rect class="l4" x="1754" y="2731" width="68" height="22"/><text class="t" x="1759" y="2746">二、课堂练习</text></g>
<g id="b4c1"><rect class="l4" x="1841" y="2455" width="137" height="22"/><text class="t" x="1846" y="2470">1.完成P11页练习一的第4题。</text></g>
<g id="b4c11"><rect class="l4" x="1997" y="2402" width="149" height="22"/><text class="t" x="2002" y="2417">(1)出示画面，让学生理解题意。</text></g>
<g id="b4c12"><rect class="l4" x="1997" y="2444" width="205" height="35"/><text class="t" x="2002" y="2459">(2)让学生独立口算出每一个算式的答案，并<tspan x="2002" dy="13">将他们对号入座。</tspan></text></g>
<g id="b4c13"><rect class="l4" x="1997" y="2501" width="205" height="35"/><text class="t" x="2002" y="2516">(3)教师任意选择一题让学生说一说你是怎样<tspan x="2002" dy="13">想的。</tspan></text></g>
<g id="b4c2"><rect class="l4" x="1841" y="2603" width="137" height="22"/><text class="t" x="1846" y="2618">2.完成P11页练习一的第3题。</text></g>
<g id="b4c21"><rect class="l4" x="1997" y="2556" width="205" height="48"/><text class="t" x="2002" y="2571">教师将l0、14、13、17……写在黑板上，然后<tspan x="2002" dy="13">教师一手拿着9的卡片在黑板上移动(不必按顺</tspan><tspan x="2002" dy="13">序)，卡片对着十几就算十几减9。</tspan></text></g>
<g id="b4c22"><rect class="l4" x="1997" y="2624" width="205" height="48"/><text class="t" x="2002" y="2639">[教师还可以随意在黑板上指题，全班每一个<tspan x="2002" dy="13">学生举数字卡片表示得数，这样能激发学生做</tspan><tspan x="2002" dy="13">题的兴趣，有利于提高学习的效果。]</tspan></text></g>
<g id="b4c3"><rect class="l4" x="1841" y="2802" width="137" height="22"/><text class="t" x="1846" y="2817">3.完成P12页练习一的第6题。</text></g>
<g id="b4c31"><rect class="l4" x="1997" y="2693" width="205" height="35"/><text class="t" x="2002" y="2708">(1)出示题目让学生理解题意，口头叙述画面<tspan x="2002" dy="13">内容。</tspan></text></g>
<g id="b4c32"><rect class="l4" x="1997" y="2767" width="205" height="35"/><text class="t" x="2002" y="2782">(2)提问：这道题告诉我们什么条件，要我们<tspan x="2002" dy="13">求什么?</tspan></text></g>
<g id="b4c321"><rect class="l4" x="2220" y="2748" width="79" height="22"/><text class="t" x="2225" y="2763">学生观察后汇报</text></g>
<g id="b4c322"><rect class="l4" x="2220" y="2792" width="205" height="35"/><text class="t" x="2225" y="2807">第一组植树8棵，第二组植树9棵，两个小组<tspan x="2225" dy="13">一共植树多少棵?</tspan></text></g>
<g id="b4c33"><rect class="l4" x="1997" y="2848" width="159" height="22"/><text class="t" x="2002" y="2863">(3)请学生列式，并复述口算过程。</text></g>
<g id="b4c34"><rect class="l4" x="1997" y="2891" width="205" height="48"/><text class="t" x="2002" y="2906">(4)你能根据列出的加法算式说出一个减法算<tspan x="2002" dy="13">式呢?说说这个减法算式中被减数、减数和差</tspan><tspan x="2002" dy="13">表示的意义吗?</tspan></text></g>
<g id="b4c4"><rect class="l4" x="1841" y="3009" width="137" height="22"/><text class="t" x="1846" y="3024">4.完成P12页练习一的第8题。</text></g>
<g id="b4c41"><rect class="l4" x="1997" y="2959" width="188" height="22"/><text class="t" x="2002" y="2974">(1)让学生独立理解题意，叙述画面内容。</text></g>
<g id="b4c42"><rect class="l4" x="1997" y="3003" width="205" height="35"/><text class="t" x="2002" y="3018">(2)让学生通过画面内容想一想：这道题可以<tspan x="2002" dy="13">提什么问题?</tspan></text></g>
<g id="b4c43"><rect class="l4" x="1997" y="3059" width="128" height="22"/><text class="t" x="2002" y="3074">(3)学生任意选择独立完成。</text></g>
<g id="b4b3"><rect class="l4" x="1754" y="3124" width="68" height="22"/><text class="t" x="1759" y="3139">三、课堂练习</text></g>
<g id="b4b31"><rect class="l4" x="1841" y="3102" width="137" height="22"/><text class="t" x="1846" y="3117">1.完成P11页练习二的第5题。</text></g>
<g id="b4b32"><rect class="l4" x="1841" y="3145" width="137" height="22"/><text class="t" x="1846" y="3160">2.完成P12页练习二的第7题。</text></g>
<g id="b4b321"><rect class="l4" x="1997" y="3145" width="133" height="22"/><text class="t" x="2002" y="3160">[学生独立完成，集体订正。]</text></g>
<g id="b4b4"><rect class="l4" x="1754" y="3211" width="78" height="22"/><text class="t" x="1759" y="3226">四、布置作业。</text></g>
<g id="b4b41"><rect class="l4" x="1850" y="3189" width="138" height="22"/><text class="t" x="1855" y="3204">1、完成练习练习二的第9题。</text></g>
<g id="b4b42"><rect class="l4" x="1850" y="3232" width="105" height="22"/><text class="t" x="1855" y="3247">2、完成第12页思考题</text></g>
<g id="b4a5"><rect class="l4" x="1677" y="3294" width="58" height="22"/><text class="t" x="1682" y="3309">教学反思：</text></g>
<g id="b4a51"><rect class="l4" x="1754" y="3275" width="204" height="61"/><text class="t" x="1759" y="3290">通过本课的练习，使学生在有梯度的练习中进<tspan x="1759" dy="13">一步理解和掌握了十几减9的退位减法的计算</tspan><tspan x="1759" dy="13">方法，在老师的鼓励下，运用想加算减法，学</tspan><tspan x="1759" dy="13">生计算的速度有了明显的提高。</tspan></text></g>

<!-- Related -->
<g id="br"><rect class="bred" x="1450" y="3561" width="209" height="46"/><text class="tb" x="1456" y="3581">小学数学一年级13减几教案例文相<tspan x="1456" dy="16">关文章：</tspan></text></g>
<g id="br1"><rect class="lr" x="1677" y="3355" width="205" height="35"/><text class="tr" x="1682" y="3370">★ 人教版一年级数学上册加减混合教案最新<tspan x="1682" dy="13">范文</tspan></text></g>
<g id="br2"><rect class="lr" x="1677" y="3412" width="171" height="22"/><text class="tr" x="1682" y="3427">★ 2021一年级数学退位减法教案例文</text></g>
<g id="br3"><rect class="lr" x="1677" y="3455" width="190" height="22"/><text class="tr" x="1682" y="3470">★ 小学一年级数学连加连减教案2021范文</text></g>
<g id="br4"><rect class="lr" x="1677" y="3498" width="179" height="22"/><text class="tr" x="1682" y="3513">★ 一年级数学下册加与减教案2021例文</text></g>
<g id="br5"><rect class="lr" x="1677" y="3541" width="205" height="35"/><text class="tr" x="1682" y="3556">★ 一年级下册十几减9退位减法数学教案202<tspan x="1682" dy="13">1范文</tspan></text></g>
<g id="br6"><rect class="lr" x="1677" y="3597" width="199" height="22"/><text class="tr" x="1682" y="3612">★ 人教版小学数学一年级优秀教案2021例文</text></g>
<g id="br7"><rect class="lr" x="1677" y="3640" width="205" height="35"/><text class="tr" x="1682" y="3655">★ 一年级数学加减法教案模板范文最新版202<tspan x="1682" dy="13">1</tspan></text></g>
<g id="br8"><rect class="lr" x="1677" y="3696" width="172" height="22"/><text class="tr" x="1682" y="3711">★ 一年级上册数学数一数教案范文5篇</text></g>
<g id="br9"><rect class="lr" x="1677" y="3739" width="168" height="22"/><text class="tr" x="1682" y="3754">★ 小学一年级数学教学范文例文五篇</text></g>
<g id="br10"><rect class="lr" x="1677" y="3783" width="161" height="22"/><text class="tr" x="1682" y="3798">★ 人教版数学一年级教案2021例文</text></g>

<g id="watermarks">
<text class="wm" transform="translate(350,704) rotate(-31.5)">树图 shutu.cn</text>
<text class="wm" transform="translate(350,1700) rotate(-31.5)">树图 shutu.cn</text>
<text class="wm" transform="translate(350,2700) rotate(-31.5)">树图 shutu.cn</text>
<text class="wm" transform="translate(360,3703) rotate(-31.5)">树图 shutu.cn</text>
<text class="wm" transform="translate(360,4705) rotate(-31.5)">树图 shutu.cn</text>
<text class="wm" transform="translate(1630,698) rotate(-31.5)">树图 shutu.cn</text>
<text class="wm" transform="translate(1630,1697) rotate(-31.5)">树图 shutu.cn</text>
<text class="wm" transform="translate(1630,2685) rotate(-31.5)">树图 shutu.cn</text>
<text class="wm" transform="translate(1630,3689) rotate(-31.5)">树图 shutu.cn</text>
<text class="wm" transform="translate(1640,4695) rotate(-31.5)">树图 shutu.cn</text>
</g>
</g>
</svg>
